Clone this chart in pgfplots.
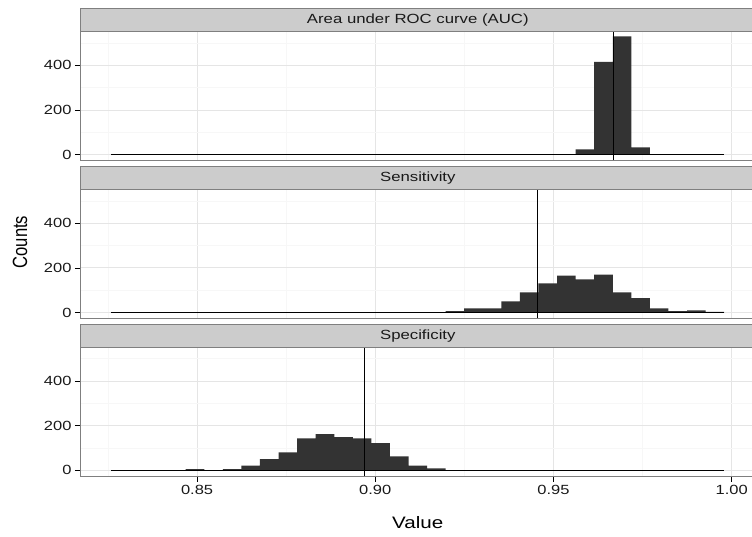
\documentclass[border=0pt]{standalone}
\usepackage{fontspec}
\setmainfont{Liberation Sans}
\usepackage{graphicx}
\usepackage{pgfplots}
\pgfplotsset{compat=1.18}
\definecolor{barc}{HTML}{333333}
\definecolor{border}{HTML}{7F7F7F}
\definecolor{stripfill}{HTML}{CCCCCC}
\definecolor{gmaj}{HTML}{E5E5E5}
\definecolor{gmin}{HTML}{F7F7F7}
\pgfplotsset{
 panel/.style={
  scale only axis, width=674pt, height=128.4pt,
  xmin=0.81737, xmax=1.0065, ymin=-25, ymax=550,
  xtick={0.85,0.90,0.95,1.00}, minor xtick={0.825,0.875,0.925,0.975},
  xticklabels={0.85,0.90,0.95,1.00},
  ytick={0,200,400}, minor ytick={100,300,500},
  grid=both, major grid style={gmaj, line width=0.8pt}, minor grid style={gmin, line width=0.6pt},
  axis line style={border, line width=0.9pt},
  tick align=outside, tick pos=left, major tick length=6pt, minor tick length=0pt,
  tick style={black, line width=0.6pt},
  /pgf/number format/assume math mode=true,
  ticklabel style={font=\fontsize{13.3}{16}\selectfont, text=black!90, xscale=1.24},
  yticklabel style={inner sep=2.5pt},
  xticklabel style={inner sep=3pt},
  clip=false,
 },
 toppanel/.style={panel, xticklabels={}, xtick style={draw=none}},
}
\newcommand{\strip}[1]{%
  \draw[border, fill=stripfill, line width=0.9pt] (rel axis cs:0,1) rectangle ([yshift=23.5pt]rel axis cs:1,1);
  \node[font=\fontsize{13.3}{16}\selectfont, text=black!90, xscale=1.26] at ([yshift=11.75pt]rel axis cs:0.5,1) {#1};
}
\begin{document}
\begin{tikzpicture}
\useasboundingbox (0,0) rectangle (752pt,537pt);
% Panel 1: AUC
\begin{axis}[toppanel, anchor=south west, at={(80.8pt,376.8pt)}]
\addplot[ybar interval, fill=barc, draw=none] coordinates {
(0.95622,23) (0.96143,415) (0.96664,530) (0.97185,32) (0.97706,32)};
\addplot[black, line width=0.5pt] coordinates {(0.82597,0) (0.99790,0)};
\addplot[black, line width=1.2pt] coordinates {(0.96683,-25) (0.96683,550)};
\strip{Area under ROC curve (AUC)}
\end{axis}
% Panel 2: Sensitivity
\begin{axis}[toppanel, anchor=south west, at={(80.8pt,218.9pt)}]
\addplot[ybar interval, fill=barc, draw=none] coordinates {
(0.91975,6) (0.92496,19) (0.93017,19) (0.93538,50) (0.94059,90)
(0.94580,131) (0.95101,165) (0.95622,148) (0.96143,170) (0.96664,90)
(0.97185,64) (0.97706,18) (0.98227,6) (0.98748,10) (0.99269,3) (0.99790,3)};
\addplot[black, line width=0.5pt] coordinates {(0.82597,0) (0.99790,0)};
\addplot[black, line width=1.2pt] coordinates {(0.94562,-25) (0.94562,550)};
\strip{Sensitivity}
\end{axis}
% Panel 3: Specificity
\begin{axis}[panel, anchor=south west, at={(80.8pt,61pt)}]
\addplot[ybar interval, fill=barc, draw=none] coordinates {
(0.84681,6) (0.85202,0) (0.85723,6) (0.86244,22) (0.86765,50) (0.87286,81)
(0.87807,144) (0.88328,162) (0.88849,149) (0.89370,144) (0.89891,122)
(0.90412,63) (0.90933,22) (0.91454,9) (0.91975,9)};
\addplot[black, line width=0.5pt] coordinates {(0.82597,0) (0.99790,0)};
\addplot[black, line width=1.2pt] coordinates {(0.8970,-25) (0.8970,550)};
\strip{Specificity}
\end{axis}
\node[rotate=90, font=\fontsize{16.6}{20}\selectfont] at (20pt,295pt) {\scalebox{1}[1.24]{Counts}};
\node[font=\fontsize{16.6}{20}\selectfont] at (417.8pt,14pt) {\scalebox{1.24}[1]{Value}};
\end{tikzpicture}
\end{document}
